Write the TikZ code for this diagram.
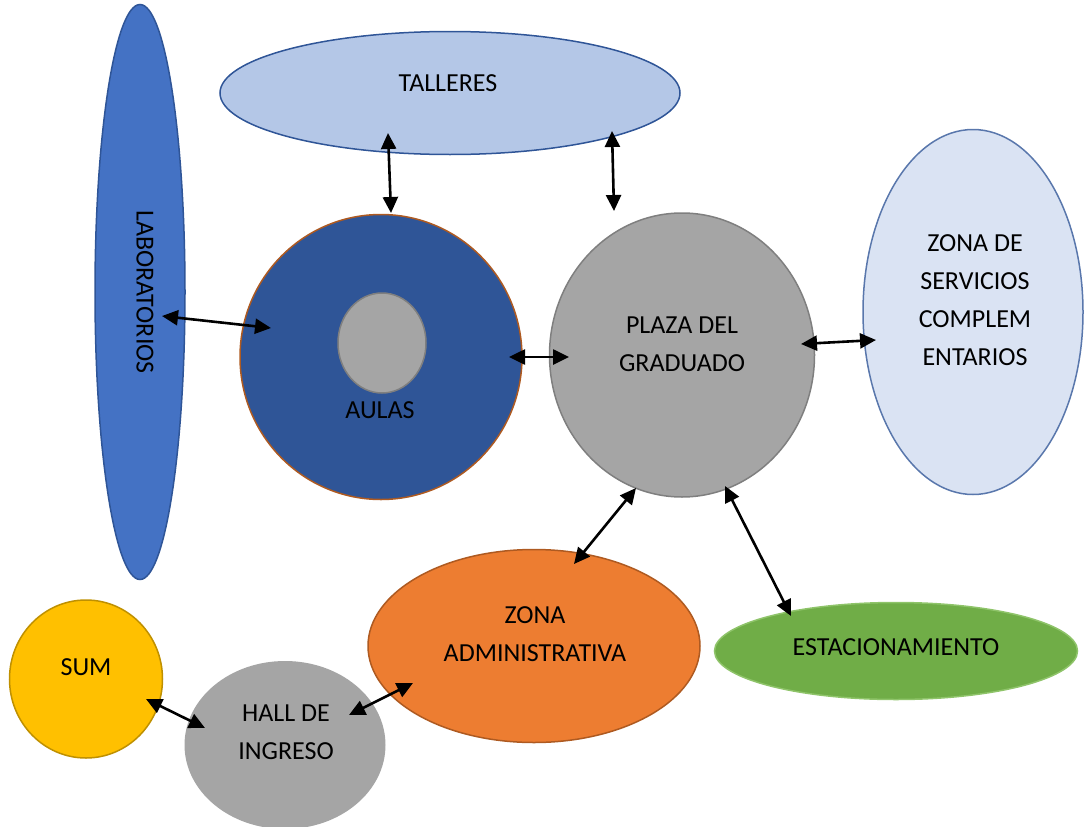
\documentclass[tikz,border=0pt]{standalone}
\usepackage{fontspec}
\setmainfont{Carlito}
\usetikzlibrary{shapes.geometric,arrows.meta}
\definecolor{labblue}{HTML}{4472C4}
\definecolor{darkblue}{HTML}{2F5597}
\definecolor{lightblue}{HTML}{B4C7E7}
\definecolor{paleblue}{HTML}{DAE3F3}
\definecolor{midgray}{HTML}{A5A5A5}
\definecolor{edgegray}{HTML}{7F7F7F}
\definecolor{orangef}{HTML}{ED7D31}
\definecolor{orangee}{HTML}{AE5A21}
\definecolor{greenf}{HTML}{70AD47}
\definecolor{greene}{HTML}{8FC46A}
\definecolor{goldf}{HTML}{FFC000}
\definecolor{golde}{HTML}{BF9000}
\tikzset{
  zone/.style={ellipse, inner sep=0pt, line width=1.5pt},
  lbl/.style={font=\fontsize{26}{38}\selectfont, align=center, text=black, inner sep=0pt},
  link/.style={line width=2.6pt, {Triangle[length=16pt,width=15pt]}-{Triangle[length=16pt,width=15pt]}},
}
\begin{document}
\begin{tikzpicture}[x=1pt,y=-1pt]
\useasboundingbox (0,0) rectangle (1084,827);
% shapes
\node[zone, fill=labblue, draw=darkblue, minimum width=90pt, minimum height=575pt] (lab) at (140,292) {};
\node[zone, fill=lightblue, draw=darkblue, minimum width=460pt, minimum height=123pt] (tal) at (450,93) {};
\node[zone, fill=darkblue, draw=orangee, minimum width=282pt, minimum height=285pt] (aul) at (381,357) {};
\node[zone, fill=midgray, draw=edgegray, minimum width=88pt, minimum height=100pt] (aulin) at (382,343) {};
\node[zone, fill=midgray, draw=edgegray, minimum width=265pt, minimum height=284pt] (pla) at (682,355) {};
\node[zone, fill=paleblue, draw=darkblue!80, minimum width=220pt, minimum height=365pt] (ser) at (973,312) {};
\node[zone, fill=orangef, draw=orangee, minimum width=332pt, minimum height=193pt] (adm) at (534,646) {};
\node[zone, fill=greenf, draw=greene, minimum width=363pt, minimum height=97pt] (est) at (896,651) {};
\node[zone, fill=goldf, draw=golde, minimum width=153pt, minimum height=158pt] (sum) at (86,679) {};
\node[zone, fill=midgray, draw=none, minimum width=201pt, minimum height=168pt] (hal) at (285,745) {};
% labels
\node[lbl, rotate=-90] (tlab) at (145,292) {LABORATORIOS};
\node[lbl] (ttal) at (448,83) {TALLERES};
\node[lbl] (taul) at (380,410) {AULAS};
\node[lbl] (tpla) at (682,344) {PLAZA DEL\\GRADUADO};
\node[lbl] (tser) at (975,300) {ZONA DE\\SERVICIOS\\COMPLEM\\ENTARIOS};
\node[lbl] (tadm) at (535,634) {ZONA\\ADMINISTRATIVA};
\node[lbl] (test) at (896,647) {ESTACIONAMIENTO};
\node[lbl] (tsum) at (86,667) {SUM};
\node[lbl] (thal) at (286,732) {HALL DE\\INGRESO};
% connector end points
\coordinate (a1) at (388,133); \coordinate (a2) at (391,213);
\coordinate (b1) at (612,131); \coordinate (b2) at (614,211);
\coordinate (c1) at (162,316); \coordinate (c2) at (271,328);
\coordinate (d1) at (509,357); \coordinate (d2) at (569,357);
\coordinate (e1) at (801,344); \coordinate (e2) at (876,340);
\coordinate (f1) at (636,488); \coordinate (f2) at (574,564);
\coordinate (g1) at (725,486); \coordinate (g2) at (791,616);
\coordinate (h1) at (146,699); \coordinate (h2) at (205,728);
\coordinate (i1) at (349,715); \coordinate (i2) at (413,683);
\draw[link] (a1) -- (a2);
\draw[link] (b1) -- (b2);
\draw[link] (c1) -- (c2);
\draw[link] (d1) -- (d2);
\draw[link] (e1) -- (e2);
\draw[link] (f1) -- (f2);
\draw[link] (g1) -- (g2);
\draw[link] (h1) -- (h2);
\draw[link] (i1) -- (i2);
\end{tikzpicture}
\end{document}
